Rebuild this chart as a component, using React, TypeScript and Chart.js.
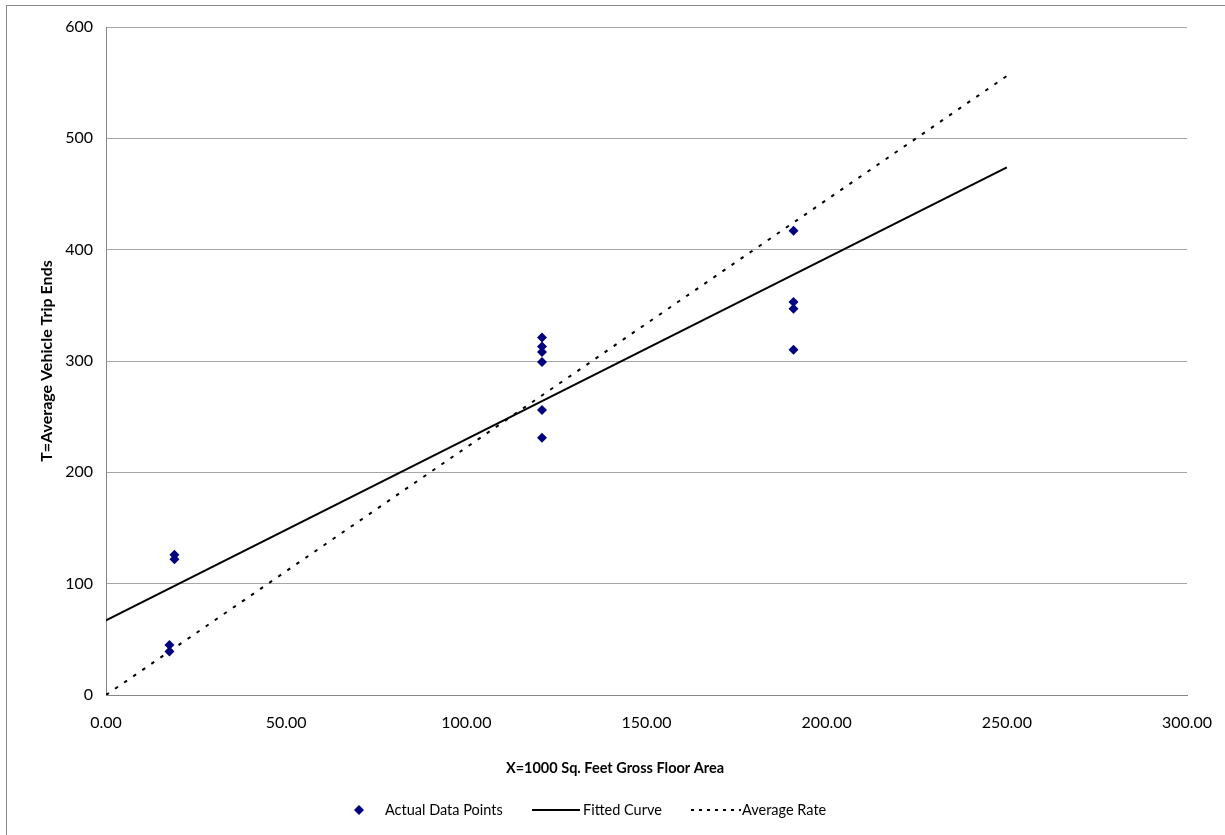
import React, { useEffect, useRef } from "react";
import { Chart, registerables } from "chart.js";

Chart.register(...registerables);

// ---- data ----
const pointX: number[] = [19, 19, 17.6, 17.6, 121, 121, 121, 121, 121, 121, 190.8, 190.8, 190.8, 190.8];
const pointY: number[] = [126, 122, 45, 39, 321, 313, 308, 299, 256, 231, 417, 353, 347, 310];
const fittedX: number[] = [0, 250];
const fittedY: number[] = [67, 474];
const averageX: number[] = [0, 250];
const averageY: number[] = [0, 556];
const seriesNames: string[] = ["Actual Data Points", "Fitted Curve", "Average Rate"];
const xTitle = "X=1000 Sq. Feet Gross Floor Area";
const yTitle = "T=Average Vehicle Trip Ends";
const xTicks: number[] = [0, 50, 100, 150, 200, 250, 300];
const yTicks: number[] = [0, 100, 200, 300, 400, 500, 600];

const FONT = "Lato, 'Open Sans', sans-serif";
const NAVY = "#000080";

const zip = (xs: number[], ys: number[]) => xs.map((x, i) => ({ x, y: ys[i] }));

const customText = {
  id: "customText",
  afterDraw(chart: any) {
    const ctx = chart.ctx as CanvasRenderingContext2D;
    ctx.save();
    // x axis title
    ctx.fillStyle = "#000";
    ctx.font = `bold 14.5px ${FONT}`;
    ctx.textAlign = "center";
    ctx.textBaseline = "middle";
    ctx.fillText(xTitle, 615, 768);

    // legend
    const ly = 810;
    ctx.font = `14.5px ${FONT}`;
    ctx.textAlign = "left";
    // diamond marker
    ctx.fillStyle = NAVY;
    ctx.beginPath();
    ctx.moveTo(359, ly - 5);
    ctx.lineTo(364, ly);
    ctx.lineTo(359, ly + 5);
    ctx.lineTo(354, ly);
    ctx.closePath();
    ctx.fill();
    ctx.fillStyle = "#000";
    ctx.fillText(seriesNames[0], 385, ly);

    // solid line
    ctx.strokeStyle = "#000";
    ctx.lineWidth = 2;
    ctx.setLineDash([]);
    ctx.beginPath();
    ctx.moveTo(532, ly);
    ctx.lineTo(580, ly);
    ctx.stroke();
    ctx.fillText(seriesNames[1], 583, ly);

    // dotted line
    ctx.setLineDash([3, 5]);
    ctx.beginPath();
    ctx.moveTo(691, ly);
    ctx.lineTo(741, ly);
    ctx.stroke();
    ctx.setLineDash([]);
    ctx.fillText(seriesNames[2], 742, ly);
    ctx.restore();
  },
};

export default function App() {
  const ref = useRef<HTMLCanvasElement | null>(null);

  useEffect(() => {
    if (!ref.current) return;
    const chart = new Chart(ref.current, {
      type: "scatter",
      data: {
        datasets: [
          {
            label: seriesNames[0],
            data: zip(pointX, pointY),
            pointStyle: "rectRot",
            pointRadius: 5,
            pointBackgroundColor: NAVY,
            pointBorderColor: NAVY,
            pointBorderWidth: 0,
            showLine: false,
            order: 0,
          },
          {
            label: seriesNames[1],
            data: zip(fittedX, fittedY),
            showLine: true,
            borderColor: "#000",
            borderWidth: 2,
            pointRadius: 0,
            order: 1,
          },
          {
            label: seriesNames[2],
            data: zip(averageX, averageY),
            showLine: true,
            borderColor: "#000",
            borderWidth: 2,
            borderDash: [3.5, 7.5],
            pointRadius: 0,
            order: 2,
          },
        ],
      },
      options: {
        animation: false,
        responsive: false,
        layout: { padding: { left: 0, top: 27, right: 38, bottom: 0 } },
        plugins: {
          legend: { display: false },
          tooltip: { enabled: false },
          title: { display: false },
        },
        scales: {
          x: {
            type: "linear",
            min: 0,
            max: 300,
            afterBuildTicks: (scale: any) => {
              scale.ticks = xTicks.map((v) => ({ value: v }));
            },
            afterFit: (scale: any) => {
              scale.height = 140;
              scale.paddingLeft = 0;
              scale.paddingRight = 0;
            },
            grid: { display: false, drawTicks: false },
            border: { display: true, color: "#868686", width: 1 },
            ticks: {
              padding: 18,
              color: "#000",
              font: { family: FONT, size: 16 },
              callback: (v: any) => Number(v).toFixed(2),
            },
          },
          y: {
            type: "linear",
            min: 0,
            max: 600,
            afterBuildTicks: (scale: any) => {
              scale.ticks = yTicks.map((v) => ({ value: v }));
            },
            afterFit: (scale: any) => {
              scale.width = 106;
              scale.paddingTop = 0;
              scale.paddingBottom = 0;
            },
            grid: { display: true, drawTicks: false, color: "#a6a6a6", lineWidth: 1 },
            border: { display: true, color: "#868686", width: 1 },
            ticks: {
              padding: 13,
              color: "#000",
              font: { family: FONT, size: 16 },
              callback: (v: any) => String(v),
            },
            title: {
              display: true,
              text: yTitle,
              color: "#000",
              font: { family: FONT, size: 16, weight: "bold" },
              padding: { top: 37, bottom: 0 },
            },
          },
        },
      },
      plugins: [customText],
    });
    return () => chart.destroy();
  }, []);

  return (
    <div
      style={{
        position: "fixed",
        left: 0,
        top: 0,
        width: 1225,
        height: 835,
        overflow: "hidden",
        background: "#fff",
      }}
    >
      <div
        style={{
          position: "absolute",
          left: 6,
          top: 5,
          width: 1300,
          height: 900,
          border: "1px solid #868686",
          boxSizing: "border-box",
        }}
      />
      <canvas
        ref={ref}
        width={1225}
        height={835}
        style={{ position: "absolute", left: 0, top: 0, display: "block" }}
      />
    </div>
  );
}
